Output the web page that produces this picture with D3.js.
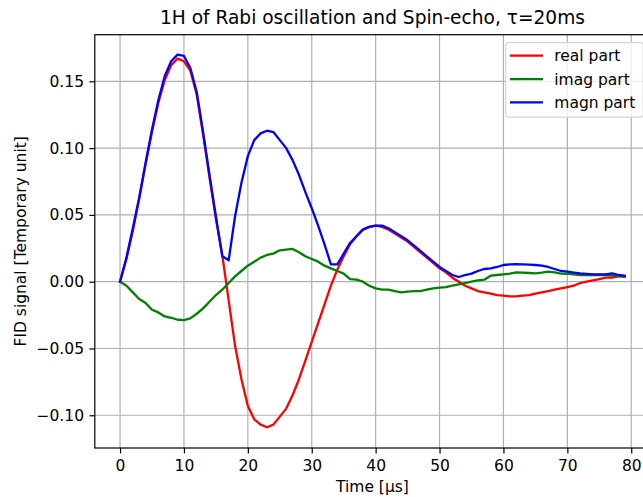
<!DOCTYPE html>
<html>
<head>
<meta charset="utf-8">
<script src="https://cdn.jsdelivr.net/npm/d3@7"></script>
<style>
  html, body { margin: 0; padding: 0; background: #fff; }
  svg { display: block; font-family: "DejaVu Sans", sans-serif; }
</style>
</head>
<body>
<svg id="chart" width="643" height="497"></svg>
<script>
const timeUs = d3.range(0, 80);
const realPart = [
  0, 0.017, 0.038, 0.062, 0.088, 0.112, 0.134, 0.151, 0.162, 0.167,
  0.165, 0.158, 0.140, 0.110, 0.078, 0.047, 0.020, -0.014, -0.048, -0.073,
  -0.093, -0.103, -0.107, -0.109, -0.107, -0.101, -0.095, -0.085, -0.073, -0.059,
  -0.045, -0.031, -0.017, -0.003, 0.009, 0.019, 0.028, 0.034, 0.039, 0.041,
  0.042, 0.041, 0.039, 0.036, 0.033, 0.030, 0.026, 0.022, 0.018, 0.014,
  0.010, 0.007, 0.003, 0.000, -0.003, -0.005, -0.007, -0.008, -0.009, -0.010,
  -0.0105, -0.011, -0.011, -0.0105, -0.010, -0.009, -0.008, -0.007, -0.006, -0.005,
  -0.004, -0.003, -0.001, 0.000, 0.001, 0.002, 0.003, 0.003, 0.004, 0.004
];
const imagPart = [
  0, -0.003, -0.008, -0.013, -0.016, -0.021, -0.023, -0.026, -0.027, -0.0285,
  -0.0287, -0.0275, -0.024, -0.020, -0.015, -0.010, -0.006, -0.001, 0.004, 0.008,
  0.012, 0.015, 0.018, 0.020, 0.021, 0.0235, 0.024, 0.0245, 0.022, 0.019,
  0.017, 0.015, 0.012, 0.010, 0.008, 0.006, 0.002, 0.0015, 0.000, -0.003,
  -0.005, -0.006, -0.006, -0.007, -0.008, -0.0075, -0.007, -0.007, -0.006, -0.005,
  -0.0045, -0.004, -0.003, -0.002, -0.001, 0.000, 0.001, 0.0015, 0.0045, 0.005,
  0.0055, 0.006, 0.007, 0.0068, 0.0065, 0.0063, 0.0068, 0.0075, 0.007, 0.006,
  0.0058, 0.0055, 0.005, 0.005, 0.005, 0.005, 0.005, 0.0045, 0.0042, 0.0037
];
const magnPart = [
  0, 0.018, 0.040, 0.063, 0.089, 0.114, 0.136, 0.154, 0.165, 0.170,
  0.169, 0.160, 0.142, 0.112, 0.080, 0.049, 0.019, 0.016, 0.049, 0.074,
  0.094, 0.106, 0.111, 0.113, 0.112, 0.106, 0.100, 0.091, 0.080, 0.067,
  0.055, 0.042, 0.028, 0.013, 0.013, 0.021, 0.029, 0.034, 0.039, 0.041,
  0.042, 0.042, 0.040, 0.037, 0.034, 0.031, 0.027, 0.023, 0.019, 0.015,
  0.011, 0.008, 0.005, 0.0035, 0.005, 0.006, 0.008, 0.0095, 0.010, 0.011,
  0.0125, 0.013, 0.0132, 0.013, 0.0128, 0.0125, 0.012, 0.011, 0.0095, 0.008,
  0.0075, 0.0068, 0.0062, 0.0058, 0.0055, 0.0055, 0.0055, 0.0063, 0.005, 0.0045
];
const seriesNames = ["real part", "imag part", "magn part"];
const seriesColors = ["#ff0000", "#008000", "#0000ff"];
const xTicks = [0, 10, 20, 30, 40, 50, 60, 70, 80];
const yTicks = [-0.10, -0.05, 0.00, 0.05, 0.10, 0.15];
const titleText = "1H of Rabi oscillation and Spin-echo, τ=20ms";
const xLabel = "Time [µs]";
const yLabel = "FID signal [Temporary unit]";

(function () {
const series = [realPart, imagPart, magnPart];

const pL = 94.8, pR = 650.1, pT = 34.7, pB = 448;
const x = d3.scaleLinear().domain([-3.95, 82.95]).range([pL, pR]);
const y = d3.scaleLinear().domain([-0.1245, 0.1849]).range([pB, pT]);

const svg = d3.select("#chart");
const FS = 15.5;

// grid
const grid = svg.append("g").attr("stroke", "#b0b0b0").attr("stroke-width", 1.2);
grid.selectAll("line.gx").data(xTicks).join("line").attr("class", "gx")
  .attr("x1", d => x(d)).attr("x2", d => x(d)).attr("y1", pT).attr("y2", pB);
grid.selectAll("line.gy").data(yTicks).join("line").attr("class", "gy")
  .attr("y1", d => y(d)).attr("y2", d => y(d)).attr("x1", pL).attr("x2", pR);

// lines
const line = d3.line().x((d, i) => x(timeUs[i])).y(d => y(d));
svg.append("g").selectAll("path").data(series).join("path")
  .attr("d", d => line(d))
  .attr("fill", "none")
  .attr("stroke", (d, i) => seriesColors[i])
  .attr("stroke-width", 2.3)
  .attr("stroke-linejoin", "round")
  .attr("stroke-linecap", "square");

// axes
const fmtY = v => d3.format(".2f")(v).replace("-", "\u2212");
const xAxis = d3.axisBottom(x).tickValues(xTicks).tickSize(5.4).tickPadding(7).tickFormat(d3.format("d"));
const yAxis = d3.axisLeft(y).tickValues(yTicks).tickSize(5.4).tickPadding(5.4).tickFormat(fmtY);
const gx = svg.append("g").attr("transform", `translate(0,${pB})`).call(xAxis);
const gy = svg.append("g").attr("transform", `translate(${pL},0)`).call(yAxis);
[gx, gy].forEach(g => {
  g.select(".domain").remove();
  g.selectAll(".tick line").attr("stroke", "#000").attr("stroke-width", 1.2);
  g.selectAll(".tick text").attr("fill", "#000").style("font-size", FS + "px")
    .style("font-family", "DejaVu Sans");
});

// spines
svg.append("rect").attr("x", pL).attr("y", pT)
  .attr("width", pR - pL).attr("height", pB - pT)
  .attr("fill", "none").attr("stroke", "#000").attr("stroke-width", 1.2);

// title & labels
svg.append("text").attr("x", (pL + pR) / 2).attr("y", 24)
  .attr("text-anchor", "middle").style("font-size", "18.6px").text(titleText);
svg.append("text").attr("x", (pL + pR) / 2).attr("y", 492)
  .attr("text-anchor", "middle").style("font-size", FS + "px").text(xLabel);
svg.append("text").attr("transform", `translate(26,${(pT + pB) / 2}) rotate(-90)`)
  .attr("text-anchor", "middle").style("font-size", FS + "px").text(yLabel);

// legend
const lg = svg.append("g");
lg.append("rect").attr("x", 505.7).attr("y", 42.7).attr("width", 137.5).attr("height", 74.5)
  .attr("rx", 3).attr("fill", "#fff").attr("fill-opacity", 0.8)
  .attr("stroke", "#d6d6d6").attr("stroke-width", 1.2);
const rowY = [55.7, 79.1, 102.3];
const items = lg.selectAll("g.item").data(seriesNames).join("g").attr("class", "item")
  .attr("transform", (d, i) => `translate(0,${rowY[i]})`);
items.append("line").attr("x1", 510).attr("x2", 543).attr("y1", 0).attr("y2", 0)
  .attr("stroke", (d, i) => seriesColors[i]).attr("stroke-width", 2.3);
items.append("text").attr("x", 554.3).attr("y", 0).attr("dy", "0.35em")
  .style("font-size", FS + "px").text(d => d);
})();
</script>
</body>
</html>
